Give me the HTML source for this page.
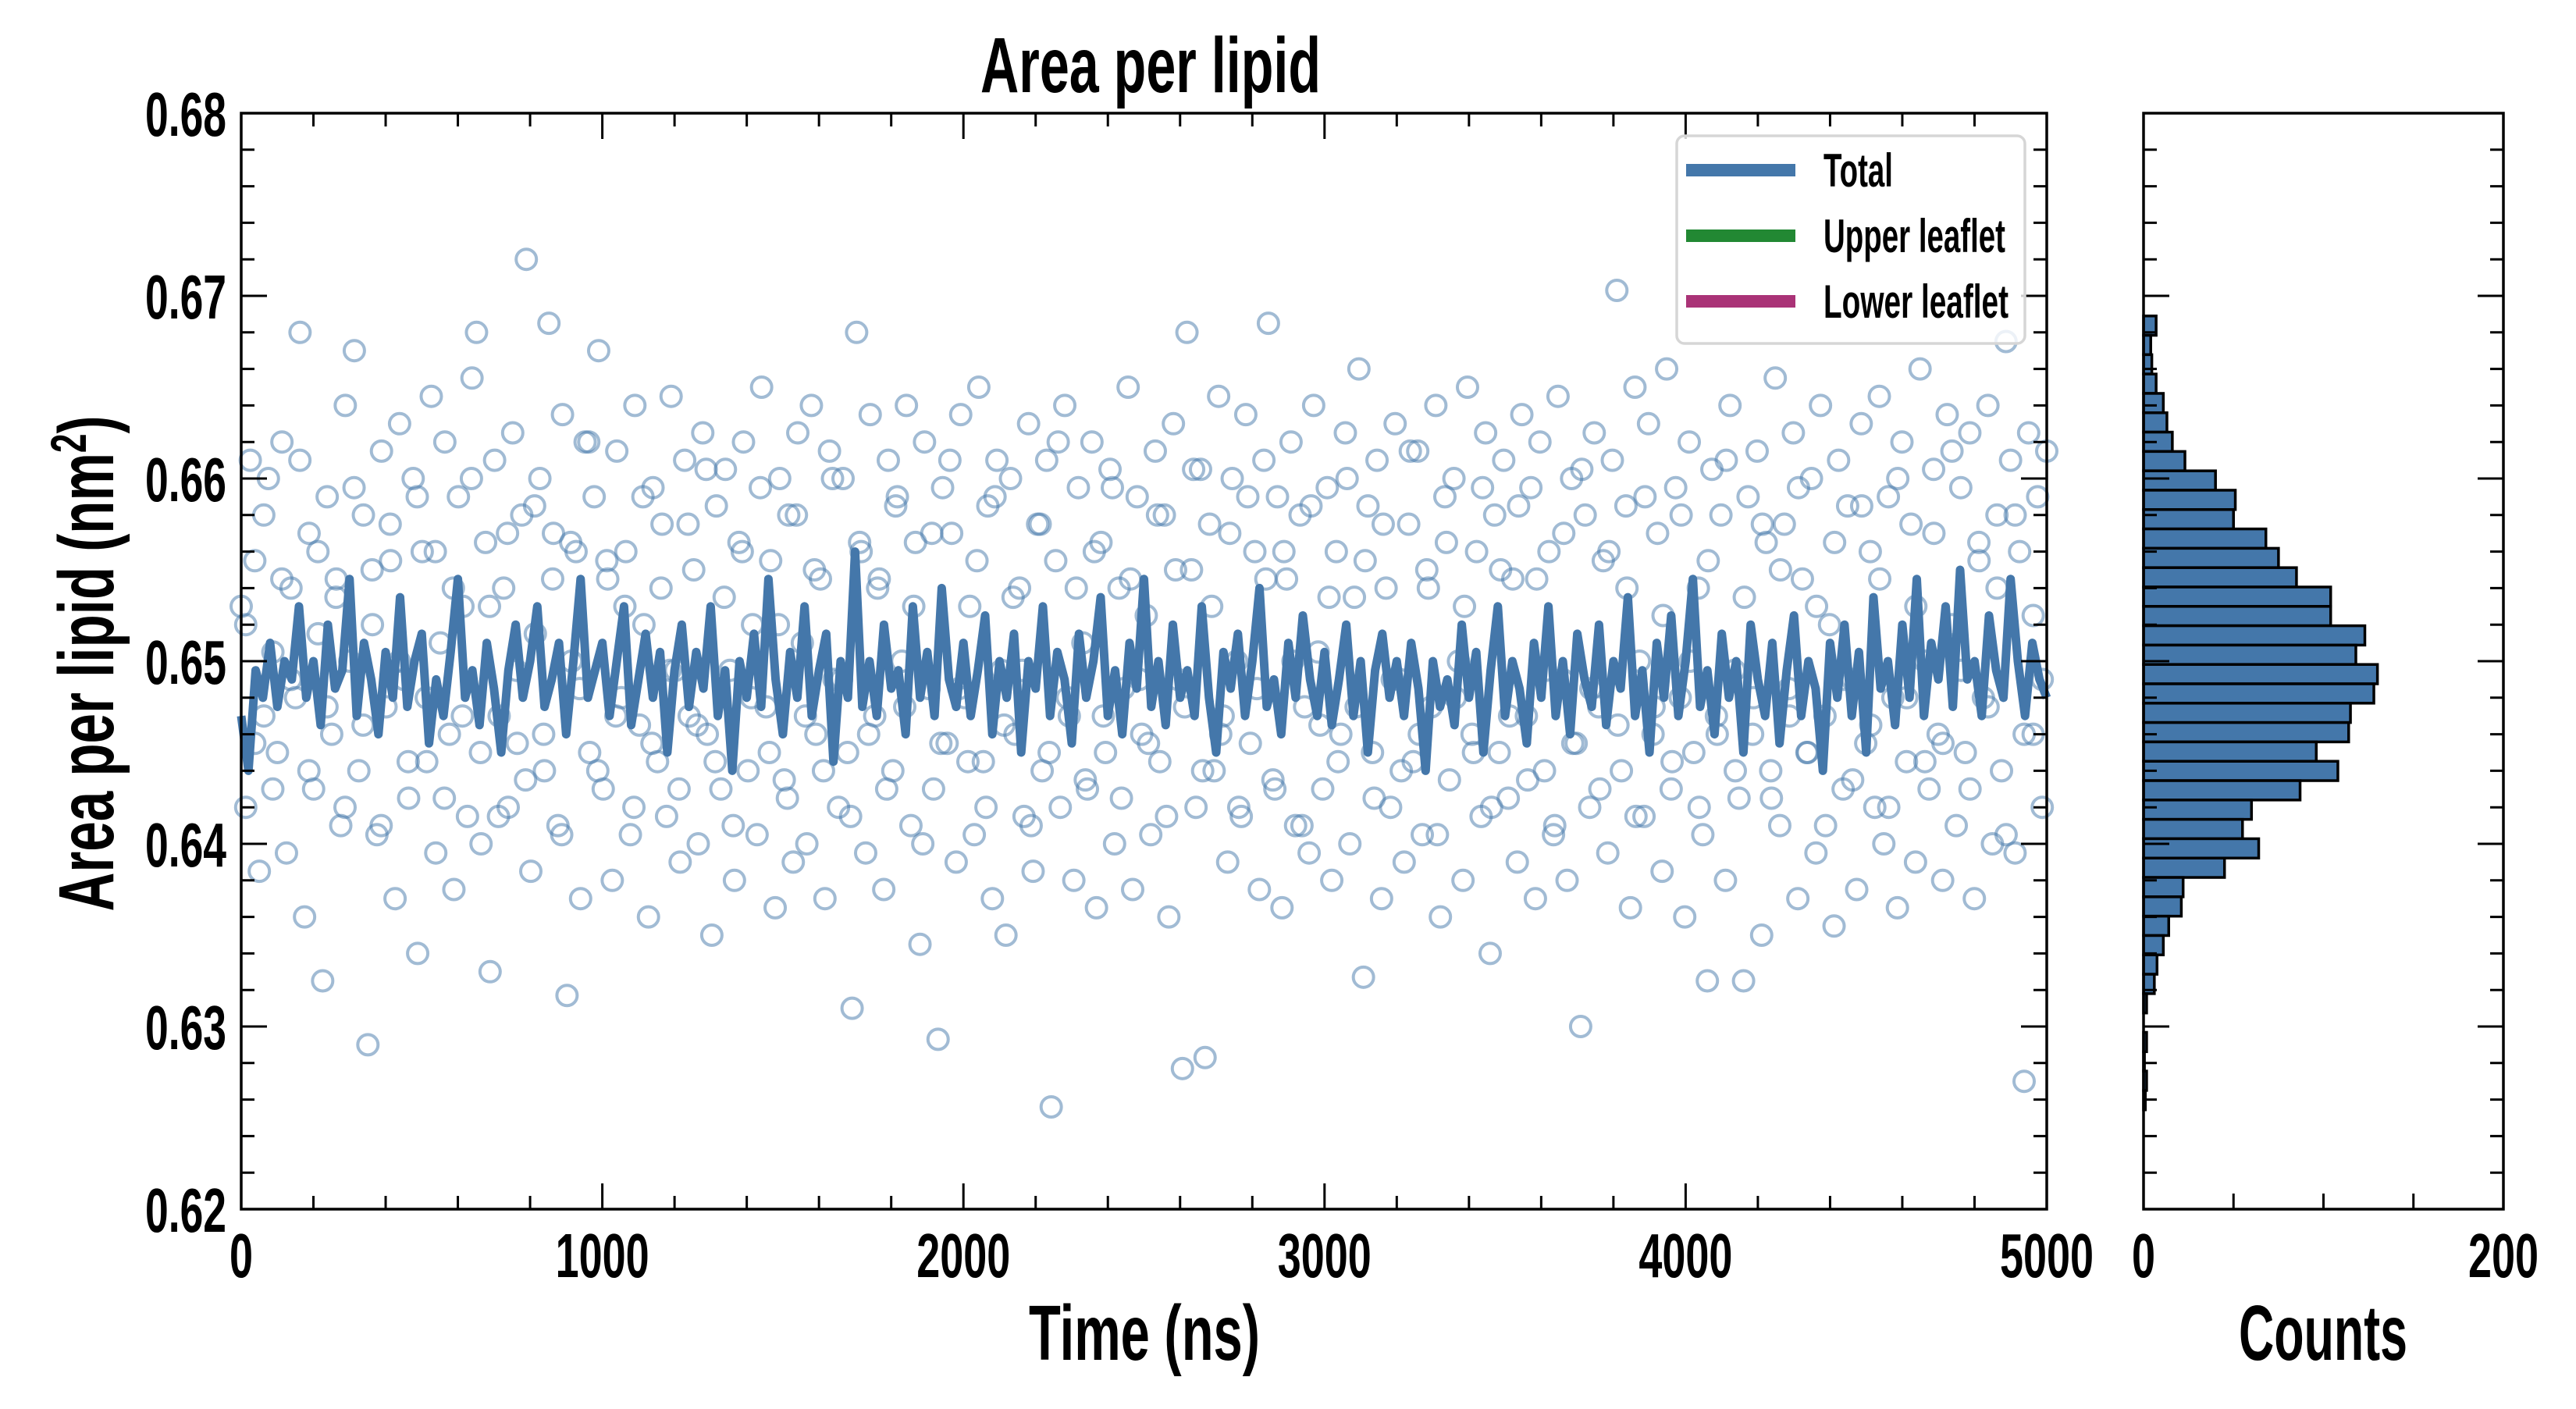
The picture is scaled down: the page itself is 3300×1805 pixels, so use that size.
<!DOCTYPE html>
<html><head><meta charset="utf-8"><style>
html,body{margin:0;padding:0;background:#fff;}
svg text{font-family:"Liberation Sans Narrow","Liberation Sans",sans-serif;font-weight:bold;fill:#000;}
</style></head><body>
<svg id="chart" width="3300" height="1800" viewBox="0 0 3300 1800" xmlns="http://www.w3.org/2000/svg">
<g id="main"></g>
<g id="hist"></g>
</svg>
<script>
const xTicks=[0,1000,2000,3000,4000,5000];
const yTicks=[0.62,0.63,0.64,0.65,0.66,0.67,0.68];
const yTickLabels=["0.62","0.63","0.64","0.65","0.66","0.67","0.68"];
const countTicks=[0,200];
const lineValues=[0.6470,0.6440,0.6495,0.6480,0.6510,0.6475,0.6500,0.6490,0.6530,0.6480,0.6500,0.6465,0.6520,0.6485,0.6495,0.6545,0.6470,0.6510,0.6490,0.6460,0.6505,0.6480,0.6535,0.6475,0.6500,0.6515,0.6455,0.6490,0.6470,0.6505,0.6545,0.6480,0.6495,0.6465,0.6510,0.6485,0.6450,0.6495,0.6520,0.6480,0.6500,0.6530,0.6475,0.6490,0.6510,0.6460,0.6500,0.6545,0.6480,0.6495,
0.6510,0.6470,0.6500,0.6530,0.6465,0.6490,0.6515,0.6480,0.6505,0.6450,0.6495,0.6520,0.6475,0.6505,0.6485,0.6530,0.6470,0.6495,0.6440,0.6500,0.6480,0.6515,0.6475,0.6545,0.6490,0.6460,0.6505,0.6480,0.6530,0.6470,0.6495,0.6515,0.6445,0.6500,0.6480,0.6560,0.6475,0.6500,0.6470,0.6520,0.6485,0.6495,0.6460,0.6530,0.6480,0.6505,0.6470,0.6540,0.6490,0.6475,
0.6510,0.6470,0.6495,0.6525,0.6460,0.6500,0.6480,0.6515,0.6450,0.6500,0.6485,0.6530,0.6470,0.6505,0.6490,0.6455,0.6515,0.6480,0.6500,0.6535,0.6470,0.6495,0.6460,0.6510,0.6485,0.6545,0.6475,0.6500,0.6465,0.6520,0.6480,0.6495,0.6470,0.6530,0.6480,0.6450,0.6505,0.6485,0.6515,0.6470,0.6500,0.6540,0.6475,0.6490,0.6460,0.6510,0.6480,0.6525,0.6490,0.6470,
0.6505,0.6465,0.6490,0.6520,0.6470,0.6500,0.6450,0.6495,0.6515,0.6480,0.6500,0.6470,0.6510,0.6485,0.6440,0.6500,0.6475,0.6490,0.6465,0.6520,0.6480,0.6505,0.6450,0.6495,0.6530,0.6470,0.6500,0.6485,0.6455,0.6510,0.6480,0.6530,0.6470,0.6500,0.6460,0.6515,0.6490,0.6475,0.6520,0.6465,0.6500,0.6485,0.6535,0.6470,0.6495,0.6450,0.6510,0.6480,0.6525,0.6470,
0.6500,0.6545,0.6475,0.6495,0.6460,0.6515,0.6480,0.6500,0.6450,0.6520,0.6490,0.6470,0.6510,0.6455,0.6495,0.6525,0.6470,0.6500,0.6485,0.6440,0.6510,0.6480,0.6520,0.6470,0.6505,0.6450,0.6535,0.6485,0.6500,0.6465,0.6520,0.6480,0.6545,0.6470,0.6510,0.6490,0.6530,0.6475,0.6550,0.6490,0.6500,0.6470,0.6525,0.6495,0.6480,0.6545,0.6500,0.6470,0.6510,0.6490,0.6480];
const scatterValues=[0.6530,0.6420,0.6610,0.6555,0.6385,0.6470,0.6600,0.6505,0.6450,0.6620,0.6395,0.6540,0.6480,0.6680,0.6360,0.6570,0.6430,0.6515,0.6325,0.6590,
0.6460,0.6545,0.6410,0.6640,0.6500,0.6670,0.6440,0.6580,0.6290,0.6520,0.6405,0.6615,0.6475,0.6555,0.6370,0.6630,0.6490,0.6425,0.6600,0.6340,
0.6560,0.6445,0.6645,0.6395,0.6510,0.6620,0.6460,0.6375,0.6590,0.6530,0.6415,0.6655,0.6680,0.6400,0.6565,0.6330,0.6610,0.6470,0.6540,0.6420,
0.6625,0.6455,0.6580,0.6720,0.6385,0.6515,0.6600,0.6440,0.6685,0.6570,0.6410,0.6635,0.6317,0.6500,0.6560,0.6370,0.6620,0.6450,0.6590,0.6670,
0.6430,0.6545,0.6380,0.6615,0.6480,0.6560,0.6405,0.6640,0.6465,0.6520,0.6360,0.6595,0.6445,0.6575,0.6415,0.6645,0.6495,0.6390,0.6610,0.6470,
0.6550,0.6400,0.6625,0.6460,0.6350,0.6585,0.6430,0.6605,0.6495,0.6380,0.6565,0.6620,0.6440,0.6520,0.6405,0.6650,0.6475,0.6555,0.6365,0.6600,
0.6435,0.6580,0.6390,0.6625,0.6510,0.6400,0.6640,0.6460,0.6545,0.6370,0.6615,0.6490,0.6420,0.6600,0.6450,0.6310,0.6680,0.6560,0.6395,0.6635,
0.6470,0.6545,0.6375,0.6610,0.6440,0.6590,0.6500,0.6640,0.6410,0.6565,0.6345,0.6620,0.6485,0.6430,0.6293,0.6595,0.6455,0.6570,0.6390,0.6635,
0.6480,0.6530,0.6405,0.6650,0.6445,0.6585,0.6370,0.6610,0.6495,0.6350,0.6600,0.6460,0.6540,0.6415,0.6630,0.6385,0.6575,0.6440,0.6610,0.6256,
0.6555,0.6420,0.6640,0.6470,0.6380,0.6595,0.6510,0.6430,0.6620,0.6365,0.6565,0.6450,0.6605,0.6400,0.6540,0.6485,0.6650,0.6375,0.6590,0.6460,
0.6525,0.6405,0.6615,0.6445,0.6580,0.6360,0.6630,0.6490,0.6277,0.6680,0.6550,0.6420,0.6605,0.6283,0.6575,0.6440,0.6645,0.6470,0.6390,0.6600,
0.6500,0.6415,0.6635,0.6455,0.6560,0.6375,0.6610,0.6685,0.6435,0.6590,0.6365,0.6545,0.6620,0.6410,0.6580,0.6475,0.6395,0.6640,0.6505,0.6430,
0.6595,0.6380,0.6560,0.6460,0.6625,0.6400,0.6535,0.6660,0.6327,0.6585,0.6450,0.6610,0.6370,0.6540,0.6420,0.6630,0.6490,0.6390,0.6575,0.6445,
0.6615,0.6405,0.6550,0.6475,0.6640,0.6360,0.6590,0.6435,0.6600,0.6500,0.6380,0.6650,0.6460,0.6560,0.6415,0.6625,0.6340,0.6580,0.6450,0.6610,
0.6425,0.6545,0.6390,0.6635,0.6470,0.6595,0.6370,0.6620,0.6440,0.6560,0.6405,0.6645,0.6490,0.6380,0.6600,0.6455,0.6300,0.6580,0.6420,0.6625,
0.6475,0.6555,0.6395,0.6610,0.6703,0.6440,0.6585,0.6365,0.6650,0.6500,0.6415,0.6630,0.6460,0.6570,0.6385,0.6660,0.6430,0.6595,0.6480,0.6360,
0.6620,0.6450,0.6540,0.6405,0.6325,0.6605,0.6470,0.6580,0.6380,0.6640,0.6495,0.6425,0.6325,0.6590,0.6460,0.6615,0.6350,0.6565,0.6440,0.6655,
0.6410,0.6575,0.6485,0.6625,0.6370,0.6545,0.6450,0.6600,0.6395,0.6640,0.6470,0.6520,0.6355,0.6610,0.6430,0.6585,0.6490,0.6375,0.6630,0.6455,
0.6560,0.6420,0.6645,0.6400,0.6590,0.6480,0.6365,0.6620,0.6445,0.6575,0.6390,0.6660,0.6500,0.6430,0.6605,0.6460,0.6380,0.6635,0.6520,0.6410,
0.6595,0.6450,0.6625,0.6370,0.6565,0.6480,0.6640,0.6400,0.6580,0.6440,0.6675,0.6610,0.6395,0.6560,0.6270,0.6625,0.6460,0.6590,0.6420,0.6615];
const scatterValues2=[0.6520,0.6455,0.6580,0.6430,0.6545,0.6490,0.6610,0.6440,0.6560,0.6475,0.6535,0.6420,0.6595,0.6465,0.6550,0.6410,0.6575,0.6500,0.6445,0.6590,
0.6480,0.6560,0.6425,0.6540,0.6470,0.6600,0.6450,0.6530,0.6415,0.6570,0.6495,0.6435,0.6585,0.6460,0.6545,0.6405,0.6565,0.6485,0.6620,0.6440,
0.6555,0.6470,0.6530,0.6420,0.6590,0.6455,0.6540,0.6495,0.6430,0.6575,0.6465,0.6605,0.6445,0.6535,0.6410,0.6560,0.6480,0.6595,0.6450,0.6520,
0.6425,0.6580,0.6470,0.6550,0.6440,0.6600,0.6490,0.6415,0.6565,0.6460,0.6540,0.6430,0.6585,0.6475,0.6530,0.6400,0.6570,0.6455,0.6610,0.6485,
0.6445,0.6555,0.6420,0.6590,0.6465,0.6535,0.6495,0.6410,0.6575,0.6450,0.6620,0.6480,0.6540,0.6435,0.6560,0.6470,0.6595,0.6425,0.6545,0.6490,
0.6455,0.6580,0.6415,0.6550,0.6475,0.6605,0.6440,0.6530,0.6460,0.6570,0.6420,0.6590,0.6485,0.6545,0.6430,0.6560,0.6500,0.6410,0.6585,0.6465,
0.6535,0.6445,0.6600,0.6475,0.6555,0.6425,0.6575,0.6490,0.6440,0.6615,0.6460,0.6540,0.6405,0.6565,0.6480,0.6530,0.6450,0.6595,0.6420,0.6550,
0.6470,0.6585,0.6435,0.6545,0.6495,0.6410,0.6570,0.6455,0.6605,0.6485,0.6430,0.6560,0.6465,0.6540,0.6415,0.6590,0.6475,0.6525,0.6445,0.6580,
0.6500,0.6420,0.6555,0.6460,0.6610,0.6440,0.6535,0.6480,0.6575,0.6425,0.6550,0.6470,0.6595,0.6450,0.6530,0.6410,0.6565,0.6490,0.6435,0.6585,
0.6465,0.6545,0.6420,0.6600,0.6480,0.6530,0.6445,0.6570,0.6455,0.6615,0.6495,0.6430,0.6555,0.6475,0.6540,0.6405,0.6580,0.6460,0.6525,0.6490];
const histCounts=[7,4,4.6,7,11,13,16,23,40,51,50,68,75,85,104,104,123,118,130,128,115,114,96,108,87,60,55,64,45,22,21,14,11,7.5,6,1.7,0,1.7,0.5,1.7,1];
const histTop=0.6689;
const histBinWidth=0.00106;
const legendLabels=["Total","Upper leaflet","Lower leaflet"];
const legendColors=["#4477aa","#228833","#aa3377"];

const NS="http://www.w3.org/2000/svg";
const L=309,R=2622,T=145,B=1549,HL=2746,HR=3207;
const X=v=>L+(v-0)/(5000-0)*(R-L);
const Y=v=>B-(v-0.62)/(0.68-0.62)*(B-T);
const CX=c=>HL+c/200*(HR-HL);
function el(tag,attrs,parent){const e=document.createElementNS(NS,tag);for(const k in attrs)e.setAttribute(k,attrs[k]);parent.appendChild(e);return e;}
const main=document.getElementById('main');
const hist=document.getElementById('hist');

const sg=el('g',{},main);


scatterValues.forEach((v,i)=>{
  const c=el('circle',{cx:X(i*5000/(scatterValues.length-1)),cy:Y(v),r:13,fill:'none',stroke:'rgba(68,119,170,0.5)','stroke-width':4},sg);
  
  
});
scatterValues2.forEach((v,i)=>{
  const c=el('circle',{cx:X((i+0.5)*5000/scatterValues2.length),cy:Y(v),r:13,fill:'none',stroke:'rgba(68,119,170,0.5)','stroke-width':4},sg);
  
  
});
let d='';
lineValues.forEach((v,i)=>{d+=(i?'L':'M')+X(i*5000/(lineValues.length-1)).toFixed(1)+' '+Y(v).toFixed(1);});
const ln=el('path',{d:d,fill:'none',stroke:'#4477aa','stroke-width':11,'stroke-linejoin':'round'},main);



function frame(parent,l,r,name){
  const f=el('rect',{x:l,y:T,width:r-l,height:B-T,fill:'none',stroke:'#000','stroke-width':3.5},parent);
  
  
  for(let v=0.62;v<=0.6801;v+=0.002){
    const major=Math.abs(Math.round(v*100)-v*100)<1e-6;const len=major?33:17;const y=Y(v);
    el('line',{x1:l,x2:l+len,y1:y,y2:y,stroke:'#000','stroke-width':3},parent);
    el('line',{x1:r,x2:r-len,y1:y,y2:y,stroke:'#000','stroke-width':3},parent);
  }
}
frame(main,L,R,'main-axes-frame');
for(let t=0;t<=5000;t+=200){
  const major=t%1000===0;const len=major?33:17;const x=X(t);
  el('line',{x1:x,x2:x,y1:B,y2:B-len,stroke:'#000','stroke-width':3},main);
  el('line',{x1:x,x2:x,y1:T,y2:T+len,stroke:'#000','stroke-width':3},main);
}
xTicks.forEach(t=>{
  const s=String(t);
  const tx=el('text',{x:X(t),y:1636,'font-size':80,'text-anchor':'middle',textLength:s.length*30,lengthAdjust:'spacingAndGlyphs'},main);
  tx.textContent=s;
  
  
});
yTicks.forEach((v,i)=>{
  const tx=el('text',{x:290,y:Y(v)+29,'font-size':80,'text-anchor':'end',textLength:104,lengthAdjust:'spacingAndGlyphs'},main);
  tx.textContent=yTickLabels[i];
  
  
});
const title=el('text',{x:1474,y:118,'font-size':100,'text-anchor':'middle',textLength:436,lengthAdjust:'spacingAndGlyphs'},main);
title.textContent='Area per lipid';


const xl=el('text',{x:1466,y:1742,'font-size':100,'text-anchor':'middle',textLength:296,lengthAdjust:'spacingAndGlyphs'},main);
xl.textContent='Time (ns)';


const yl=el('text',{x:0,y:0,'font-size':100,'text-anchor':'middle',textLength:635,lengthAdjust:'spacingAndGlyphs',transform:'translate(145,850) rotate(-90)'},main);
yl.innerHTML='Area per lipid (nm<tspan dy="-35" font-size="64">2</tspan><tspan dy="35">)</tspan>';



const lg=el('g',{},main);


el('rect',{x:2148,y:174,width:446,height:266,rx:10,fill:'rgba(255,255,255,0.8)',stroke:'#d6d6d6','stroke-width':3.5},lg);
const lw=[89,233,237];
legendLabels.forEach((s,i)=>{
  const y=218+i*84;
  const sw=el('line',{x1:2160,x2:2300,y1:y,y2:y,stroke:legendColors[i],'stroke-width':16},lg);
  
  
  const tx=el('text',{x:2336,y:y+21,'font-size':60,textLength:lw[i],lengthAdjust:'spacingAndGlyphs'},lg);
  tx.textContent=s;
  
  
});

histCounts.forEach((c,i)=>{
  const top=histTop-i*histBinWidth;const y1=Y(top),y2=Y(top-histBinWidth);
  const b=el('rect',{x:HL,y:y1,width:Math.max(CX(c)-HL,0),height:y2-y1,fill:'#4477aa',stroke:'#000','stroke-width':3.5},hist);
  
  
});
frame(hist,HL,HR,'histogram-axes-frame');
for(let c=0;c<=200;c+=50){
  const x=CX(c);
  el('line',{x1:x,x2:x,y1:B,y2:B-20,stroke:'#000','stroke-width':3},hist);
}
countTicks.forEach(c=>{
  const s=String(c);
  const tx=el('text',{x:CX(c),y:1636,'font-size':80,'text-anchor':'middle',textLength:s.length*30,lengthAdjust:'spacingAndGlyphs'},hist);
  tx.textContent=s;
  
  
});
const cl=el('text',{x:2976,y:1742,'font-size':100,'text-anchor':'middle',textLength:216,lengthAdjust:'spacingAndGlyphs'},hist);
cl.textContent='Counts';


</script>
</body></html>
